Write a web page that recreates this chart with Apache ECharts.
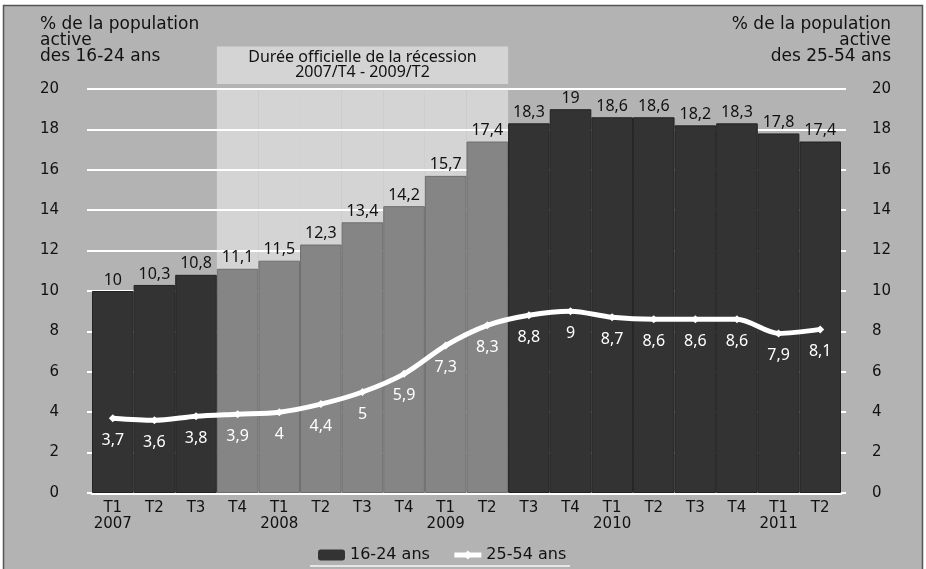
<!DOCTYPE html>
<html>
<head>
<meta charset="utf-8">
<script src="https://cdn.jsdelivr.net/npm/echarts@6/dist/echarts.min.js"></script>
<style>
  html, body { margin: 0; padding: 0; background: #fff; }
  #chart { width: 926px; height: 569px; }
</style>
</head>
<body>
<div id="chart"></div>
<script>
const categories = ['T1\n2007', 'T2', 'T3', 'T4', 'T1\n2008', 'T2', 'T3', 'T4',
  'T1\n2009', 'T2', 'T3', 'T4', 'T1\n2010', 'T2', 'T3', 'T4', 'T1\n2011', 'T2'];
const youth = [10, 10.3, 10.8, 11.1, 11.5, 12.3, 13.4, 14.2, 15.7, 17.4, 18.3, 19, 18.6, 18.6, 18.2, 18.3, 17.8, 17.4];
const adults = [3.7, 3.6, 3.8, 3.9, 4, 4.4, 5, 5.9, 7.3, 8.3, 8.8, 9, 8.7, 8.6, 8.6, 8.6, 7.9, 8.1];
const yTicks = [0, 2, 4, 6, 8, 10, 12, 14, 16, 18, 20];
// recession: 2007/T4 (index 3) to 2009/T2 (index 9)
const recessionFrom = 3;
const recessionTo = 9;

const inRecession = (i) => i >= recessionFrom && i <= recessionTo;
const comma = (v) => String(v).replace('.', ',');
const tickFont = { fontFamily: 'DejaVu Sans', fontSize: 15, color: '#111' };

const chart = echarts.init(document.getElementById('chart'));

const staticGraphics = [
  {
    id: 'bg', type: 'rect', z: -100, silent: true,
    shape: { x: 3.5, y: 5.5, width: 919, height: 570 },
    style: { fill: '#b3b3b3', stroke: '#555', lineWidth: 1.5 },
  },
  {
    id: 'nameL', type: 'text', x: 40, y: 17,
    style: { text: '% de la population\nactive\ndes 16-24 ans', font: '17px DejaVu Sans', lineHeight: 16, fill: '#111' },
  },
  {
    id: 'nameR', type: 'text', x: 891, y: 17,
    style: { text: '% de la population\nactive\ndes 25-54 ans', font: '17px DejaVu Sans', lineHeight: 16, fill: '#111', align: 'right' },
  },
  {
    id: 'legendLine', type: 'line', silent: true,
    shape: { x1: 310, y1: 566, x2: 570, y2: 566 },
    style: { stroke: '#e6e6e6', lineWidth: 2 },
  },
];

const option = {
  backgroundColor: '#fff',
  animation: false,
  grid: { left: 92, right: 85, top: 89, bottom: 76 },
  legend: {
    data: [
      { name: '16-24 ans', itemStyle: { color: '#333333', borderWidth: 0 } },
      { name: '25-54 ans', itemStyle: { color: '#fff' }, lineStyle: { color: '#fff', width: 5 } },
    ],
    left: 313,
    top: 542,
    itemWidth: 27,
    itemHeight: 11,
    itemGap: 22,
    textStyle: { fontFamily: 'DejaVu Sans', fontSize: 16, color: '#111' },
  },
  xAxis: {
    type: 'category',
    data: categories,
    axisLine: { lineStyle: { color: '#fff', width: 3 } },
    axisTick: { lineStyle: { color: '#fff', width: 2 }, length: 5 },
    axisLabel: { ...tickFont, lineHeight: 16, margin: 7, interval: 0 },
  },
  yAxis: [0, 1].map((k) => ({
    type: 'value',
    min: yTicks[0],
    max: yTicks[yTicks.length - 1],
    interval: 2,
    position: k === 0 ? 'left' : 'right',
    axisLine: { show: false },
    axisTick: { show: true, length: 5, lineStyle: { color: '#fff', width: 2 } },
    splitLine: { show: k === 0, lineStyle: { color: '#fff', width: 2 } },
    axisLabel: { ...tickFont, margin: k === 0 ? 33 : 31, align: k === 0 ? 'right' : 'left' },
  })),
  series: [
    {
      name: 'shade',
      type: 'bar',
      z: -1,
      silent: true,
      barGap: '-100%',
      barCategoryGap: 0,
      itemStyle: { color: '#d4d4d4' },
      data: youth.map((_, i) => (inRecession(i) ? yTicks[yTicks.length - 1] : '-')),
    },
    {
      name: '16-24 ans',
      type: 'bar',
      barGap: '-100%',
      barCategoryGap: 0,
      itemStyle: {
        color: (p) => (inRecession(p.dataIndex) ? '#858585' : '#333333'),
        borderColor: '#222',
        borderWidth: 1,
      },
      label: {
        show: true,
        position: 'top',
        distance: 3,
        fontFamily: 'Noto Sans',
        fontSize: 16,
        color: '#111',
        formatter: (p) => comma(p.value),
      },
      data: youth.map((v, i) => ({
        value: v,
        itemStyle: inRecession(i) ? { borderColor: '#6e6e6e' } : {},
      })),
    },
    {
      name: '25-54 ans',
      type: 'line',
      yAxisIndex: 1,
      smooth: 0.3,
      symbol: 'diamond',
      symbolSize: 8,
      color: '#fff',
      lineStyle: { color: '#fff', width: 5 },
      itemStyle: { color: '#fff' },
      label: {
        show: true,
        position: 'bottom',
        distance: 10,
        fontFamily: 'Noto Sans',
        fontSize: 16,
        color: '#fff',
        formatter: (p) => comma(p.value),
      },
      data: adults,
    },
  ],
  graphic: staticGraphics,
};

chart.setOption(option);

// header box above the shaded recession period
const band = chart.convertToPixel({ xAxisIndex: 0 }, 1) - chart.convertToPixel({ xAxisIndex: 0 }, 0);
const x0 = chart.convertToPixel({ xAxisIndex: 0 }, recessionFrom) - band / 2;
const x1 = chart.convertToPixel({ xAxisIndex: 0 }, recessionTo) + band / 2;
const yTop = chart.convertToPixel({ yAxisIndex: 0 }, 22.1);
const yBot = chart.convertToPixel({ yAxisIndex: 0 }, 20.25);
chart.setOption({
  graphic: staticGraphics.concat([
    {
      id: 'headBox', type: 'rect', silent: true,
      shape: { x: x0, y: yTop, width: x1 - x0, height: yBot - yTop },
      style: { fill: '#d4d4d4' },
    },
    {
      id: 'headText', type: 'text', silent: true,
      x: (x0 + x1) / 2, y: (yTop + yBot) / 2,
      style: {
        text: 'Durée officielle de la récession\n2007/T4 - 2009/T2',
        font: '16px Noto Sans', lineHeight: 15, fill: '#111',
        align: 'center', verticalAlign: 'middle',
      },
    },
  ]),
});
</script>
</body>
</html>
